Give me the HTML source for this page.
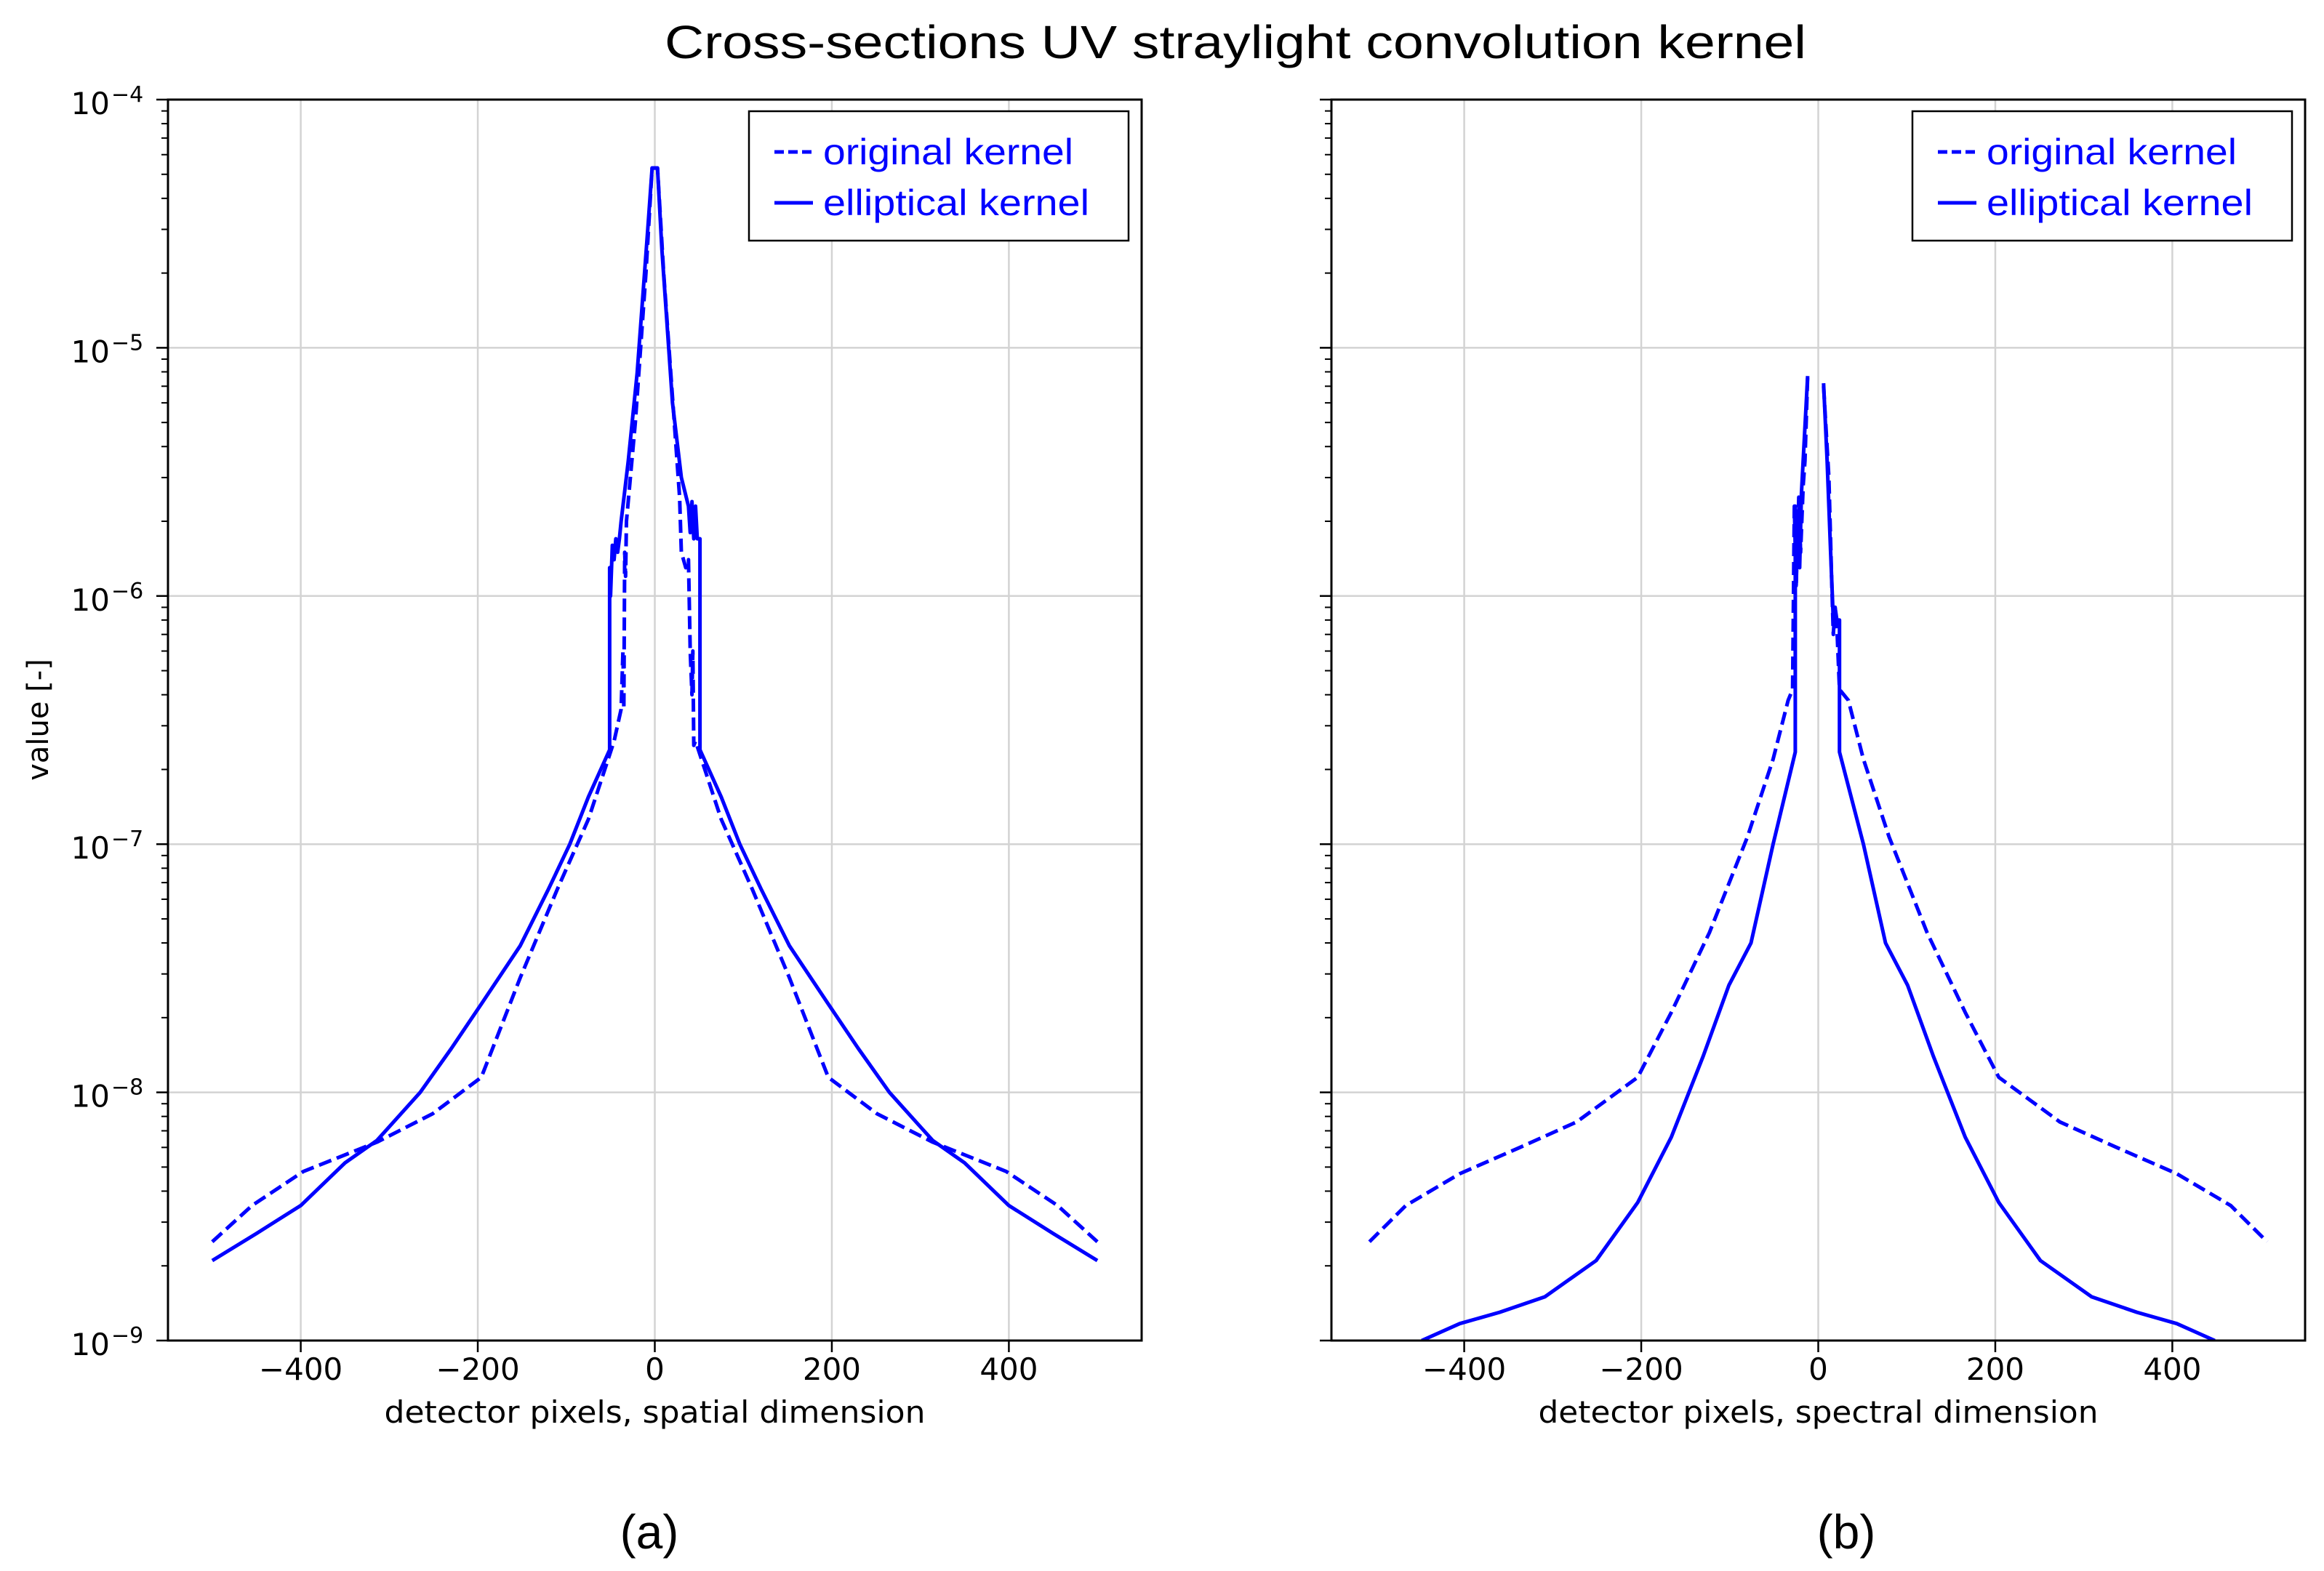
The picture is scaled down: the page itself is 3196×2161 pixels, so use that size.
<!DOCTYPE html>
<html><head><meta charset="utf-8"><style>
html,body{margin:0;padding:0;background:#fff;}
svg{display:block;font-family:"DejaVu Sans","Liberation Sans",sans-serif;}
</style></head><body>
<svg id="fig" width="3196" height="2161" viewBox="0 0 3196 2161" xmlns="http://www.w3.org/2000/svg">
<text x="1699" y="80" font-size="64" text-anchor="middle" textLength="1570" lengthAdjust="spacingAndGlyphs" fill="#000" font-family="Liberation Sans, sans-serif">Cross-sections UV straylight convolution kernel</text>
<text x="893" y="2130" font-size="66" text-anchor="middle" fill="#000" font-family="Liberation Sans, sans-serif">(a)</text>
<text x="2539" y="2130" font-size="66" text-anchor="middle" fill="#000" font-family="Liberation Sans, sans-serif">(b)</text>
<text transform="translate(66,990) rotate(-90)" font-size="40" text-anchor="middle" fill="#000">value [-]</text>
<g id="pa"></g>
<g id="pb"></g>
</svg>
<script>
// Panel (a): spatial dimension
const aSolidX = [-500,-450,-400,-350,-314,-265,-230,-196,-152,-120,-96,-75,-51,-51,-50,-48,-46,-44,-42,-40,-38,-30,-20,-8,-3,3,8,20,30,38,40,42,44,46,48,51,51,75,96,120,152,196,230,265,314,350,400,450,500];
const aSolidY = [2.1e-9,2.7e-9,3.5e-9,5.2e-9,6.4e-9,1e-8,1.5e-8,2.27e-8,3.9e-8,6.6e-8,1e-7,1.55e-7,2.4e-7,1.3e-6,1.0e-6,1.6e-6,1.4e-6,1.7e-6,1.5e-6,1.7e-6,2.0e-6,3.5e-6,7.9e-6,3e-5,5.3e-5,5.3e-5,2.5e-5,6e-6,3e-6,2.3e-6,1.8e-6,2.4e-6,1.7e-6,2.3e-6,1.7e-6,1.7e-6,2.4e-7,1.55e-7,1e-7,6.6e-8,3.9e-8,2.27e-8,1.5e-8,1e-8,6.4e-9,5.2e-9,3.5e-9,2.7e-9,2.1e-9];
const aDashX = [-500,-455,-397,-314,-251,-196,-152,-110,-75,-46,-38,-36,-35,-34,-33,-32,-22,-10,-3,3,10,22,28,30,35,38,40,42,43,44,46,75,110,152,196,251,314,397,455,500];
const aDashY = [2.5e-9,3.5e-9,4.8e-9,6.3e-9,8.2e-9,1.15e-8,2.9e-8,6.6e-8,1.26e-7,2.6e-7,3.5e-7,6e-7,3.5e-7,1.5e-6,1.2e-6,2e-6,5e-6,2e-5,5.3e-5,5.3e-5,2e-5,5e-6,2.5e-6,1.5e-6,1.3e-6,1.4e-6,6e-7,4e-7,6e-7,2.5e-7,2.6e-7,1.26e-7,6.6e-8,2.9e-8,1.15e-8,8.2e-9,6.3e-9,4.8e-9,3.5e-9,2.5e-9];
// Panel (b): spectral dimension (null = gap at centre)
const bSolidX = [-448,-405,-360,-309,-251,-204,-166,-130,-101,-76,-51,-26,-26,-25,-23,-21,-19,-12,0,6,10,14,17,19,21,23,24,24,51,76,101,130,166,204,251,309,360,405,448];
const bSolidY = [1e-9,1.17e-9,1.3e-9,1.5e-9,2.1e-9,3.6e-9,6.6e-9,1.4e-8,2.7e-8,4e-8,1e-7,2.35e-7,2.3e-6,1.1e-6,2.2e-6,1.3e-6,2.6e-6,7.7e-6,null,7.2e-6,3.5e-6,1.5e-6,8e-7,9e-7,8e-7,8e-7,8e-7,2.35e-7,1e-7,4e-8,2.7e-8,1.4e-8,6.6e-9,3.6e-9,2.1e-9,1.5e-9,1.3e-9,1.17e-9,1e-9];
const bDashX = [-507,-466,-405,-337,-273,-204,-166,-123,-80,-51,-34,-29,-27,-25,-22,-20,-17,-15,-12,0,6,12,15,17,19,21,24,34,51,80,123,166,204,273,337,405,466,507];
const bDashY = [2.5e-9,3.5e-9,4.7e-9,6e-9,7.6e-9,1.15e-8,2.1e-8,4.4e-8,1.07e-7,2.2e-7,3.8e-7,4.2e-7,2.3e-6,1.1e-6,2.5e-6,1.5e-6,2.8e-6,3.5e-6,7.7e-6,null,7e-6,3e-6,1.2e-6,7e-7,9e-7,7.5e-7,4.2e-7,3.8e-7,2.2e-7,1.07e-7,4.4e-8,2.1e-8,1.15e-8,7.6e-9,6e-9,4.7e-9,3.5e-9,2.5e-9];
const xTicks = [-400,-200,0,200,400];
const xTickLabels = ["\u2212400","\u2212200","0","200","400"];
const yDecades = [-9,-8,-7,-6,-5,-4];

const NS = "http://www.w3.org/2000/svg";
function mk(tag, attrs, parent){ const e=document.createElementNS(NS,tag); for(const k in attrs) e.setAttribute(k,attrs[k]); parent.appendChild(e); return e; }

function panel(g, L, R, T, B, xlabel, solidX, solidY, dashX, dashY, showYLabels, id){
  const xs = v => L + (v + 550) / 1100 * (R - L);
  const ys = v => B - (Math.log10(v) + 9) / 5 * (B - T);
  xTicks.forEach(t=>{
    const l = mk('line',{x1:xs(t),x2:xs(t),y1:T,y2:B,stroke:'#d3d3d3','stroke-width':2.5},g);
    
    
  });
  yDecades.forEach(d=>{
    const l = mk('line',{x1:L,x2:R,y1:ys(Math.pow(10,d)),y2:ys(Math.pow(10,d)),stroke:'#d3d3d3','stroke-width':2.5},g);
    
    
  });
  const cp = mk('clipPath',{id:'clip'+id},g);
  mk('rect',{x:L,y:T,width:R-L,height:B-T},cp);
  function series(X, Y, dashed, name){
    let d=''; let pen=false;
    X.forEach((x,i)=>{
      if(Y[i]===null){ pen=false; return; }
      d += (pen?'L':'M') + xs(x).toFixed(1) + ',' + ys(Y[i]).toFixed(1);
      pen=true;
    });
    const p = mk('path',{d:d,fill:'none',stroke:'#0000ff','stroke-width':5,'stroke-linejoin':'round','clip-path':'url(#clip'+id+')'},g);
    if(dashed) p.setAttribute('stroke-dasharray','18,8');
    
    
  }
  series(dashX, dashY, true, 'original-kernel-line');
  series(solidX, solidY, false, 'elliptical-kernel-line');
  const fr = mk('rect',{x:L,y:T,width:R-L,height:B-T,fill:'none',stroke:'#000','stroke-width':3},g);
  
  
  xTicks.forEach((t,i)=>{
    mk('line',{x1:xs(t),x2:xs(t),y1:B,y2:B+16,stroke:'#000','stroke-width':2.5},g);
    const tx = mk('text',{x:xs(t),y:B+54,'font-size':42,'text-anchor':'middle',fill:'#000'},g);
    tx.textContent = xTickLabels[i];
    
    
  });
  yDecades.forEach(d=>{
    const y = ys(Math.pow(10,d));
    mk('line',{x1:L-16,x2:L,y1:y,y2:y,stroke:'#000','stroke-width':2.5},g);
    if(d<-4) for(let m=2;m<10;m++){
      const ym = ys(m*Math.pow(10,d));
      mk('line',{x1:L-9,x2:L,y1:ym,y2:ym,stroke:'#000','stroke-width':2},g);
    }
    if(showYLabels){
      const tx = mk('text',{x:L-80,y:y+20,'font-size':42,'text-anchor':'end',fill:'#000'},g);
      tx.textContent='10';
      
      
      const ex = mk('text',{x:L-78,y:y+3,'font-size':30,'text-anchor':'start',fill:'#000'},g);
      ex.textContent='\u2212'+(-d);
      
      
    }
  });
  const xl = mk('text',{x:(L+R)/2,y:1957,'font-size':42,'text-anchor':'middle',fill:'#000',textLength:(id==='a'?744:770),lengthAdjust:'spacingAndGlyphs'},g);
  xl.textContent = xlabel;
  
  
  const lx = R - 540, ly = T + 16;
  const lb = mk('rect',{x:lx,y:ly,width:522,height:178,fill:'#fff',stroke:'#000','stroke-width':2.5},g);
  
  
  mk('line',{x1:lx+35,x2:lx+88,y1:ly+56,y2:ly+56,stroke:'#0000ff','stroke-width':5,'stroke-dasharray':'13,6'},g);
  mk('line',{x1:lx+35,x2:lx+88,y1:ly+126,y2:ly+126,stroke:'#0000ff','stroke-width':5},g);
  const t1 = mk('text',{x:lx+102,y:ly+73,'font-size':50,fill:'#0000ff','font-family':'Liberation Sans, sans-serif',textLength:344,lengthAdjust:'spacingAndGlyphs'},g);
  t1.textContent='original kernel';
  
  
  const t2 = mk('text',{x:lx+102,y:ly+143,'font-size':50,fill:'#0000ff','font-family':'Liberation Sans, sans-serif',textLength:366,lengthAdjust:'spacingAndGlyphs'},g);
  t2.textContent='elliptical kernel';
  
  
}
panel(document.getElementById('pa'), 231, 1570, 137, 1844, 'detector pixels, spatial dimension', aSolidX, aSolidY, aDashX, aDashY, true, 'a');
panel(document.getElementById('pb'), 1831, 3170, 137, 1844, 'detector pixels, spectral dimension', bSolidX, bSolidY, bDashX, bDashY, false, 'b');
</script>
</body></html>
